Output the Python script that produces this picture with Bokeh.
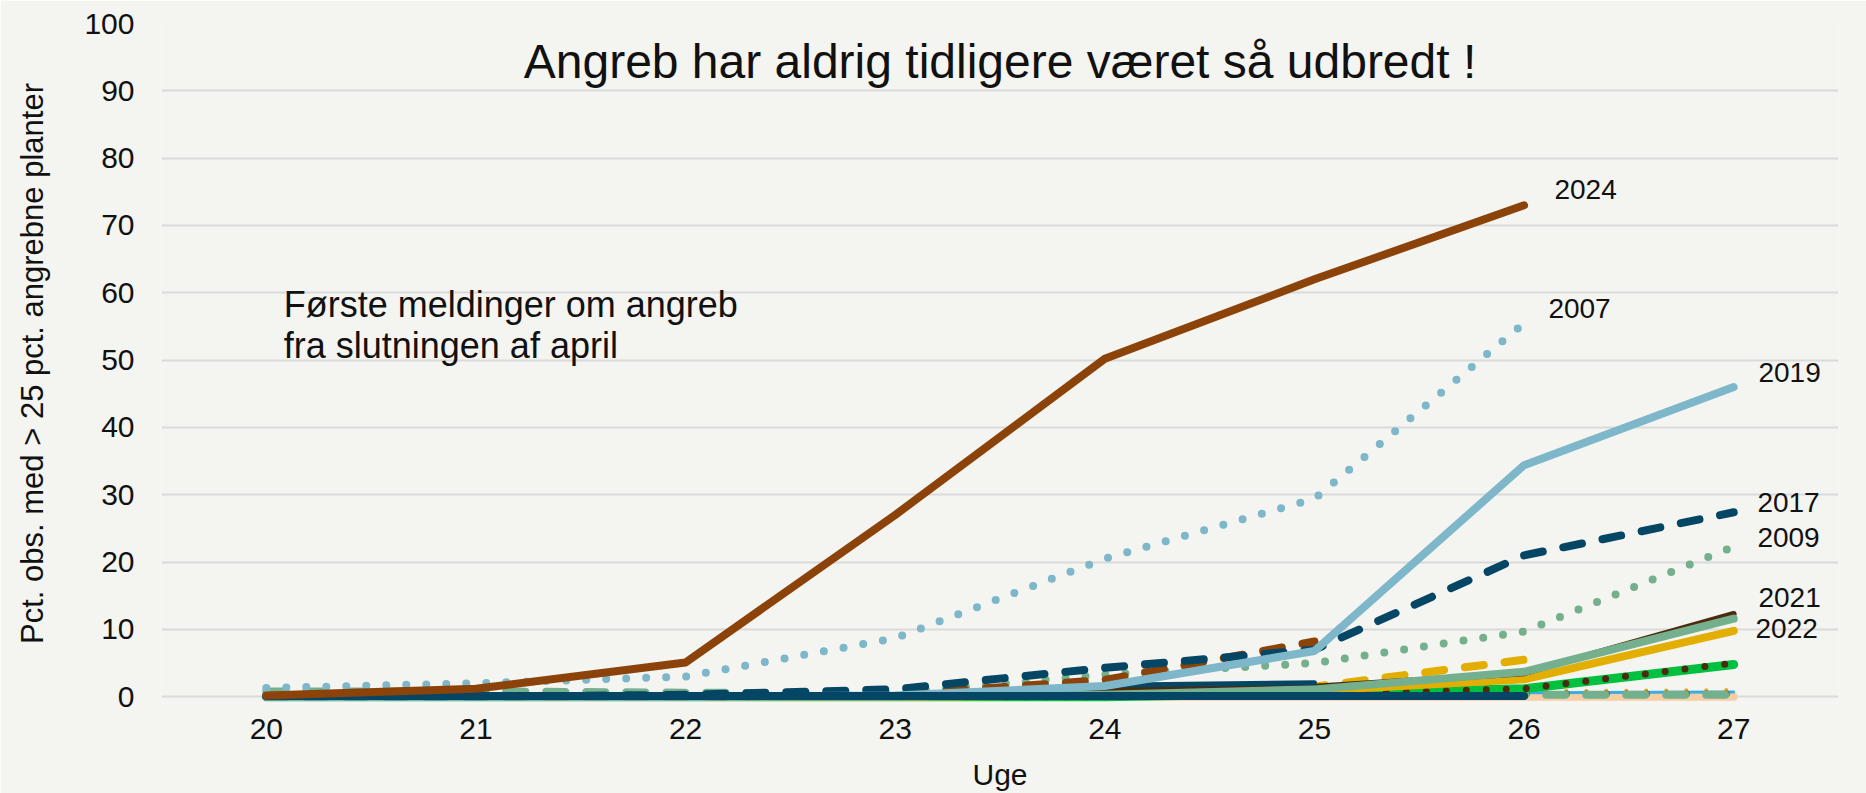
from bokeh.plotting import figure
from bokeh.models import ColumnDataSource, Label, FixedTicker, Range1d
from bokeh.embed import file_html
from bokeh.resources import INLINE
from bokeh.core.properties import value

# ---------------- data ----------------
weeks = [20, 21, 22, 23, 24, 25, 26, 27]
y_ticks = [0, 10, 20, 30, 40, 50, 60, 70, 80, 90, 100]

y2024 = [0.2, 1.2, 5.1, 27.0, 50.2, 62.0, 73.0]            # weeks 20-26
y2007 = [1.3, 2.0, 3.0, 8.7, 20.5, 29.4, 55.5]             # weeks 20-26
y2019 = [0.0, 0.0, 0.0, 0.2, 1.6, 6.8, 34.4, 46.0]
y2017 = [0.0, 0.0, 0.3, 1.1, 4.3, 7.0, 21.0, 27.4]
y2009 = [0.0, 0.0, 0.1, 0.5, 3.3, 5.0, 9.7, 22.3]
y2021 = [0.0, 0.0, 0.0, 0.2, 1.3, 1.5, 3.5, 12.3]
y2022 = [0.0, 0.0, 0.0, 0.0, 0.2, 0.9, 2.6, 9.8]
sage_solid = [0.0, 0.0, 0.0, 0.0, 0.3, 1.1, 3.7, 11.6]
brown_dashed = [0.0, 0.0, 0.0, 0.3, 2.5, 8.2]               # weeks 20-25
navy_thin = [0.0, 0.0, 0.0, 0.3, 1.7, 2.1]                  # weeks 20-25
yellow_dashed = [0.0, 0.0, 0.0, 0.0, 0.3, 1.5, 5.5]         # weeks 20-26
green_solid = [0.0, 0.0, 0.0, 0.0, 0.0, 0.5, 1.2, 4.8]
brown_dotted = [0.0, 0.0, 0.0, 0.0, 0.0, 0.3, 1.2, 5.0]
sage_dashed = [0.8, 0.8, 0.6, 0.5, 0.4, 0.3, 0.3, 0.3]
rust_dotted = [0.0, 0.0, 0.0, 0.0, 0.0, 0.1, 0.4, 0.4]
cyan_line = [0.0, 0.0, 0.0, 0.0, 0.0, 0.2, 0.6, 0.7]
yellow_dotted = [0.0, 0.0, 0.0, 0.0, 0.0, 0.3, 0.8, 1.0]
peach_line = [0.0, 0.0, 0.0, 0.0, 0.0, 0.0, 0.0, 0.0]
navy_thick = [0.1, 0.1, 0.1, 0.1, 0.1, 0.1, 0.1]            # weeks 20-26

labelled = [("2024", y2024), ("2007", y2007), ("2019", y2019), ("2017", y2017),
            ("2009", y2009), ("2021", y2021), ("2022", y2022)]

title_text = "Angreb har aldrig tidligere været så udbredt !"
note_lines = ["Første meldinger om angreb", "fra slutningen af april"]
x_title = "Uge"
y_title = "Pct. obs. med > 25 pct. angrebne planter"

# ---------------- styling ----------------
FONT = "Liberation Sans"
BG = "#F4F4F0"
TXT = "#111111"
RUST = "#8B4309"
LBLUE = "#7DB7C9"
NAVY = "#064665"
SAGE = "#75B08E"
YELLOW = "#E2AE00"
GREEN = "#00C040"
DBROWN = "#4B2A0E"
CYAN = "#3AAEE3"
PEACH = "#F7CDA4"
DASH = "19 21"
DOT = "0 20"

p = figure(width=1866, height=793,
           x_range=Range1d(19.5, 27.5), y_range=Range1d(-1.0, 100),
           output_backend="svg", toolbar_location=None,
           min_border_left=161, min_border_right=28,
           min_border_top=23, min_border_bottom=90)
p.background_fill_color = BG
p.border_fill_color = BG
p.outline_line_color = None


def draw(ys, color, width, dash="solid"):
    p.line(weeks[:len(ys)], ys, line_color=color, line_width=width,
           line_dash=dash, line_cap="round", line_join="round")


draw(peach_line, PEACH, 8)
draw(cyan_line, CYAN, 3)
draw(yellow_dotted, "#E9A81A", 4, DOT)
draw(rust_dotted, RUST, 7, DOT)
draw(sage_dashed, SAGE, 8, DASH)
draw(green_solid, GREEN, 9)
draw(brown_dotted, DBROWN, 7, DOT)
draw(yellow_dashed, YELLOW, 8, DASH)
draw(y2022, YELLOW, 8)
draw(y2021, DBROWN, 6)
draw(sage_solid, SAGE, 8)
draw(navy_thin, NAVY, 5)
draw(y2009, SAGE, 8, DOT)
draw(brown_dashed, RUST, 8, DASH)
draw(y2017, NAVY, 8, DASH)
draw(y2007, LBLUE, 8, DOT)
draw(y2019, LBLUE, 8)
draw(navy_thick, NAVY, 8)
draw(y2024, RUST, 8)

# end-of-line year labels (placed relative to each series' last point)
label_dx = {"2024": 0.145, "2007": 0.116, "2019": 0.118, "2017": 0.113,
            "2009": 0.113, "2021": 0.118, "2022": 0.104}
label_dy = {"2024": 2.4, "2007": 2.2, "2019": 2.2, "2017": 1.5,
            "2009": 1.4, "2021": 2.5, "2022": 0.4}
lx, ly, lt = [], [], []
for name, ys in labelled:
    lx.append(weeks[len(ys) - 1] + label_dx[name])
    ly.append(ys[-1] + label_dy[name])
    lt.append(name)
p.text(x="x", y="y", text="t", source=ColumnDataSource(dict(x=lx, y=ly, t=lt)),
       text_font=value(FONT), text_font_size="28px", text_color=TXT,
       text_align="left", text_baseline="alphabetic")

# title inside the plot and the note
p.add_layout(Label(x=23.5, y=94.3, text=title_text, text_font=FONT,
                   text_font_size="48px", text_color=TXT,
                   text_align="center", text_baseline="alphabetic"))
p.add_layout(Label(x=20.083, y=58.2, text=note_lines[0], text_font=FONT,
                   text_font_size="36px", text_color=TXT,
                   text_align="left", text_baseline="alphabetic"))
p.add_layout(Label(x=20.083, y=52.2, text=note_lines[1], text_font=FONT,
                   text_font_size="36px", text_color=TXT,
                   text_align="left", text_baseline="alphabetic"))

# axes
p.xaxis.ticker = FixedTicker(ticks=weeks)
p.yaxis.ticker = FixedTicker(ticks=y_ticks)
p.xaxis.axis_label = x_title
p.yaxis.axis_label = y_title
for ax in (p.xaxis[0], p.yaxis[0]):
    ax.axis_line_color = None
    ax.major_tick_line_color = None
    ax.minor_tick_line_color = None
    ax.major_label_text_font = FONT
    ax.major_label_text_font_size = "30px"
    ax.major_label_text_color = TXT
    ax.axis_label_text_font = FONT
    ax.axis_label_text_font_style = "normal"
    ax.axis_label_text_color = TXT
p.xaxis.axis_label_text_font_size = "30px"
p.yaxis.axis_label_text_font_size = "31px"
p.xaxis.major_label_standoff = 9
p.xaxis.axis_label_standoff = 16
p.yaxis.major_label_standoff = 21
p.yaxis.axis_label_standoff = 31

p.xgrid.grid_line_color = None
p.ygrid.grid_line_color = "#DADADA"
p.ygrid.grid_line_width = 2

open("out.html", "w").write(file_html(p, INLINE))
